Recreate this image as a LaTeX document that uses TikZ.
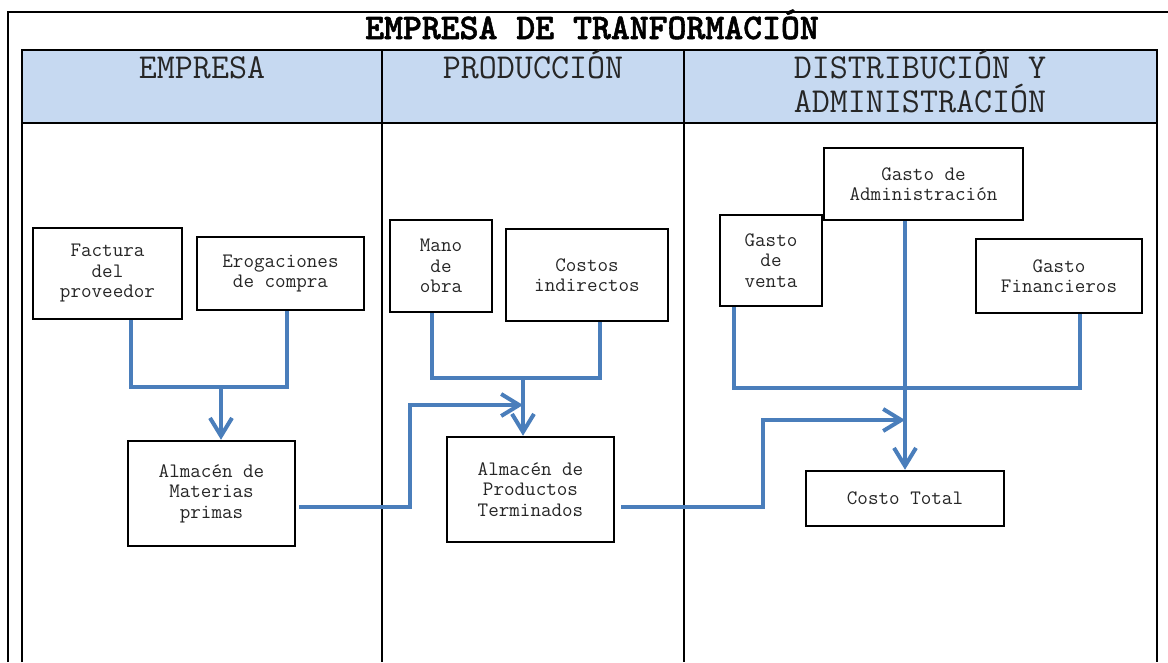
\documentclass[tikz,border=0pt]{standalone}
\usepackage{fontspec}
\newfontfamily\titulofont{lmmonolt10-bold.otf}[FakeBold=1.5]
\usetikzlibrary{arrows.meta}
\definecolor{azul}{RGB}{74,126,187}
\definecolor{celeste}{RGB}{198,217,241}

\begin{document}
\begin{tikzpicture}[x=1pt, y=-1pt,
    caja/.style={draw, line width=2.5pt, align=center, inner sep=0pt, text=black!85,
      font=\ttfamily\fontsize{20.5}{20.5}\selectfont},
    encabezado/.style={anchor=base, align=left, text=black!85,
      font=\ttfamily\fontsize{35}{34}\selectfont},
    linea/.style={draw=azul, line width=4pt},
    flecha/.style={linea, -{Straight Barb[length=18pt,width=22pt]}}]
        \useasboundingbox (0,0) rectangle (1168,662);

        % Tabla
        \fill[celeste] (22,50) rectangle (1157,123);
        \draw[line width=2pt] (8,662) -- (8,12) -- (1168,12);
        \draw[line width=2pt] (22,662) -- (22,50) -- (1157,50) -- (1157,662);
        \draw[line width=2pt] (22,123) -- (1157,123);
        \draw[line width=1.5pt] (382,50) -- (382,662);
        \draw[line width=1.5pt] (684,50) -- (684,662);

        \node[anchor=base, font=\titulofont\fontsize{36}{34}\selectfont] (titulo) at (592,39) {EMPRESA DE TRANFORMACIÓN};
        \node[encabezado] (empresa) at (202,78) {EMPRESA};
        \node[encabezado] (produccion) at (533,78) {PRODUCCIÓN};
        \node[encabezado] (distribucion) at (920,112) {DISTRIBUCIÓN Y\\ADMINISTRACIÓN};

        % Cajas
        \node[caja, minimum width=149, minimum height=91] (factura) at (107.5,273.5) {Factura\\del\\proveedor};
        \node[caja, minimum width=167, minimum height=73] (erogaciones) at (280.5,273.5) {Erogaciones\\de compra};
        \node[caja, minimum width=102, minimum height=92] (mano) at (441,266) {Mano\\de\\obra};
        \node[caja, minimum width=162, minimum height=92] (costos) at (587,275) {Costos\\indirectos};
        \node[caja, minimum width=102, minimum height=91] (venta) at (771,260.5) {Gasto\\de\\venta};
        \node[caja, minimum width=199, minimum height=72] (admin) at (923.5,184) {Gasto de\\Administración};
        \node[caja, minimum width=166, minimum height=74] (financieros) at (1059,276) {Gasto\\Financieros};
        \node[caja, minimum width=167, minimum height=105] (materias) at (211.5,493.5) {Almacén de\\Materias\\primas};
        \node[caja, minimum width=167, minimum height=105] (productos) at (530.5,489.5) {Almacén de\\Productos\\Terminados};
        \node[caja, minimum width=198, minimum height=55] (costo) at (905,498.5) {Costo Total};

        % Conectores
        \coordinate (j1) at (221,387);
        \coordinate (j2) at (523,378);
        \coordinate (j3) at (905,388);
        \coordinate (k1) at (523,405);
        \coordinate (k2) at (905,420);

        \draw[linea] ([xshift=23pt]factura.south) |- (j1) -| ([xshift=6.5pt]erogaciones.south);
        \draw[flecha] (j1) -- (j1 |- materias.north);

        \draw[linea] ([xshift=-9pt]mano.south) |- (j2) -| ([xshift=13pt]costos.south);
        \draw[flecha] (j2) -- (j2 |- productos.north);
        \draw[flecha] ([xshift=3pt,yshift=-13.5pt]materias.east) -- ++(111,0) |- (k1);

        \draw[linea] ([xshift=-37pt]venta.south) |- (j3) -| ([xshift=21pt]financieros.south);
        \draw[flecha] (admin.south -| costo.north) -- (costo.north);
        \draw[flecha] ([xshift=6pt,yshift=-17.5pt]productos.east) -- ++(142,0) |- (k2);

    \end{tikzpicture}
\end{document}
